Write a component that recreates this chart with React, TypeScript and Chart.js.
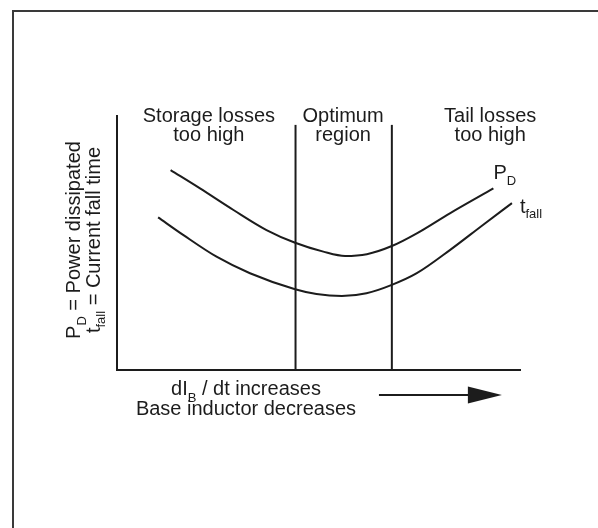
import { useEffect, useRef } from "react";
import { Chart, registerables } from "chart.js";

Chart.register(...registerables);

// ---- data (schematic units, 0..100 on both axes) ----
const xMin = 0;
const xMax = 100;
const yMin = 0;
const yMax = 100;

const pdX = [13.3, 20.6, 28.9, 37.1, 44.2, 51.2, 56.6, 62.0, 68.2, 74.4, 82.6, 93.4];
const pdY = [78.7, 71.5, 63.0, 55.1, 50.1, 46.6, 44.9, 45.6, 48.8, 53.8, 61.7, 71.5];

const tfX = [10.2, 16.5, 24.7, 33.0, 44.2, 49.5, 55.8, 61.9, 68.2, 74.4, 82.6, 90.8, 98.0];
const tfY = [60.1, 53.1, 44.6, 38.1, 31.8, 29.9, 29.1, 30.2, 33.5, 38.1, 47.2, 57.1, 65.7];

const boundaryX = [44.3, 68.2];
const boundaryTop = 96.5;

const regionCenterX = [22.8, 56.1, 92.6];
const regionLabels = [
  ["Storage losses", "too high"],
  ["Optimum", "region"],
  ["Tail losses", "too high"],
];

const FONT_FAMILY = '"Liberation Sans", Arial, Helvetica, sans-serif';
const MAIN_FONT = `20px ${FONT_FAMILY}`;
const SUB_FONT = `13px ${FONT_FAMILY}`;
const INK = "#1c1c1c";

type Seg = { t: string; sub?: boolean; dy?: number };

function drawSegs(
  ctx: CanvasRenderingContext2D,
  segs: Seg[],
  x: number,
  y: number,
  align: "left" | "center"
) {
  const widths = segs.map((s) => {
    ctx.font = s.sub ? SUB_FONT : MAIN_FONT;
    return ctx.measureText(s.t).width;
  });
  const total = widths.reduce((a, b) => a + b, 0);
  let cx = align === "center" ? x - total / 2 : x;
  segs.forEach((s, i) => {
    ctx.font = s.sub ? SUB_FONT : MAIN_FONT;
    ctx.fillText(s.t, cx, y + (s.sub ? s.dy ?? 6 : 0));
    cx += widths[i];
  });
}

const annotationPlugin = {
  id: "schematicText",
  afterDraw(chart: any) {
    const ctx: CanvasRenderingContext2D = chart.ctx;
    const xs = chart.scales.x;
    const ys = chart.scales.y;
    const area = chart.chartArea;
    ctx.save();
    ctx.fillStyle = INK;
    ctx.textAlign = "left";
    ctx.textBaseline = "alphabetic";

    // frame
    ctx.strokeStyle = "#3a3a3a";
    ctx.lineWidth = 2;
    ctx.beginPath();
    ctx.moveTo(13, 528);
    ctx.lineTo(13, 11);
    ctx.lineTo(598, 11);
    ctx.stroke();

    // region labels
    regionLabels.forEach((lines, i) => {
      const cx = xs.getPixelForValue(regionCenterX[i]);
      lines.forEach((line, j) => {
        drawSegs(ctx, [{ t: line }], cx, area.top + 6 + j * 19, "center");
      });
    });

    // series labels
    const pdEndX = xs.getPixelForValue(pdX[pdX.length - 1]);
    const pdEndY = ys.getPixelForValue(pdY[pdY.length - 1]);
    drawSegs(ctx, [{ t: "P" }, { t: "D", sub: true, dy: 6 }], pdEndX, pdEndY - 9, "left");
    const tfEndX = xs.getPixelForValue(tfX[tfX.length - 1]);
    const tfEndY = ys.getPixelForValue(tfY[tfY.length - 1]);
    drawSegs(ctx, [{ t: "t" }, { t: "fall", sub: true, dy: 5 }], tfEndX + 8, tfEndY + 10, "left");

    // x-axis caption
    const capX = xs.getPixelForValue(32);
    drawSegs(
      ctx,
      [{ t: "dI" }, { t: "B", sub: true, dy: 7 }, { t: " / dt increases" }],
      capX,
      area.bottom + 25,
      "center"
    );
    drawSegs(ctx, [{ t: "Base inductor decreases" }], capX, area.bottom + 45, "center");

    // arrow
    const ax0 = xs.getPixelForValue(65);
    const ax1 = xs.getPixelForValue(95.5);
    const ay = area.bottom + 25;
    ctx.strokeStyle = INK;
    ctx.lineWidth = 2;
    ctx.beginPath();
    ctx.moveTo(ax0, ay);
    ctx.lineTo(ax1 - 30, ay);
    ctx.stroke();
    ctx.beginPath();
    ctx.moveTo(ax1 - 34, ay - 8.5);
    ctx.lineTo(ax1, ay);
    ctx.lineTo(ax1 - 34, ay + 8.5);
    ctx.closePath();
    ctx.fill();

    // y-axis caption (rotated)
    const midY = (area.top + area.bottom) / 2 - 3;
    ctx.save();
    ctx.translate(area.left - 37, midY);
    ctx.rotate(-Math.PI / 2);
    drawSegs(ctx, [{ t: "P" }, { t: "D", sub: true, dy: 6 }, { t: " = Power dissipated" }], 0, 0, "center");
    ctx.restore();
    ctx.save();
    ctx.translate(area.left - 17, midY);
    ctx.rotate(-Math.PI / 2);
    drawSegs(ctx, [{ t: "t" }, { t: "fall", sub: true, dy: 5 }, { t: " = Current fall time" }], 0, 0, "center");
    ctx.restore();

    ctx.restore();
  },
};

export default function App() {
  const ref = useRef<HTMLCanvasElement>(null);

  useEffect(() => {
    const canvas = ref.current;
    if (!canvas) return;
    const lineStyle = {
      borderColor: INK,
      borderWidth: 2,
      pointRadius: 0,
      fill: false,
    };
    const chart = new Chart(canvas, {
      type: "line",
      data: {
        datasets: [
          {
            label: "PD",
            data: pdX.map((x, i) => ({ x, y: pdY[i] })),
            cubicInterpolationMode: "monotone",
            ...lineStyle,
          },
          {
            label: "tfall",
            data: tfX.map((x, i) => ({ x, y: tfY[i] })),
            cubicInterpolationMode: "monotone",
            ...lineStyle,
          },
          ...boundaryX.map((x) => ({
            label: "boundary",
            data: [
              { x, y: yMin },
              { x, y: boundaryTop },
            ],
            tension: 0,
            ...lineStyle,
          })),
        ],
      },
      options: {
        responsive: false,
        animation: false,
        events: [],
        layout: { padding: { left: 117, top: 116, right: 78, bottom: 158 } },
        plugins: { legend: { display: false }, tooltip: { enabled: false } },
        scales: {
          x: {
            type: "linear",
            min: xMin,
            max: xMax,
            grid: { display: false, drawTicks: false },
            ticks: { display: false },
            border: { display: true, color: INK, width: 2 },
          },
          y: {
            type: "linear",
            min: yMin,
            max: yMax,
            grid: { display: false, drawTicks: false },
            ticks: { display: false },
            border: { display: true, color: INK, width: 2 },
          },
        },
      },
      plugins: [annotationPlugin],
    } as any);
    return () => chart.destroy();
  }, []);

  return (
    <div
      style={{
        position: "fixed",
        left: 0,
        top: 0,
        width: 598,
        height: 528,
        background: "#fff",
      }}
    >
      <canvas ref={ref} width={598} height={528} style={{ display: "block", width: 598, height: 528 }} />
    </div>
  );
}
